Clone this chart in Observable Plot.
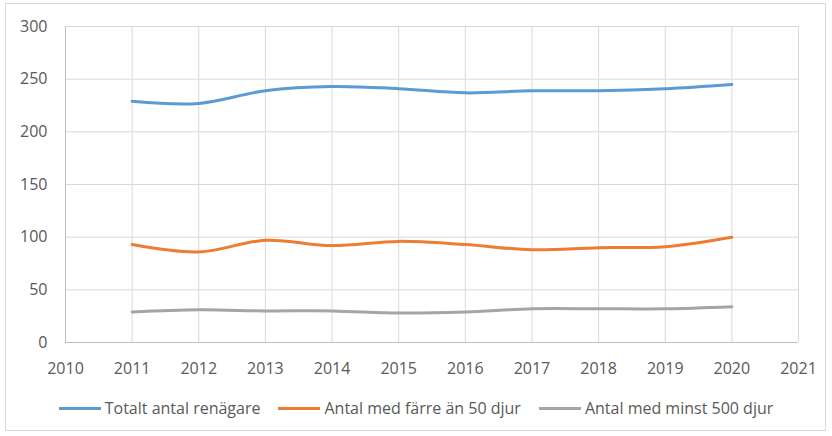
<!DOCTYPE html>
<html>
<head>
<meta charset="utf-8">
<script src="https://cdn.jsdelivr.net/npm/d3@7"></script>
<script src="https://cdn.jsdelivr.net/npm/@observablehq/plot@0.6"></script>
<style>
  body { margin: 0; background: #fff; font-family: "Open Sans", sans-serif; }
  #frame { position: absolute; left: 5px; top: 3px; width: 821px; height: 428px; border: 1px solid #d9d9d9; box-sizing: border-box; }
  #chart { position: absolute; left: 0; top: 0; }
  #legend { position: absolute; left: 0; top: 397px; width: 832px; display: flex; justify-content: center; gap: 18px; font-size: 16px; color: #595959; }
  .item { display: flex; align-items: center; }
  .sw { display: inline-block; width: 42px; height: 3px; margin-right: 4px; }
</style>
</head>
<body>
<div id="frame"></div>
<div id="chart"></div>
<div id="legend"></div>
<script>
const years = [2011, 2012, 2013, 2014, 2015, 2016, 2017, 2018, 2019, 2020];
const totalt = [229, 227, 239, 243, 241, 237, 239, 239, 241, 245];
const farre50 = [93, 86, 97, 92, 96, 93, 88, 90, 91, 100];
const minst500 = [29, 31, 30, 30, 28, 29, 32, 32, 32, 34];
const seriesNames = ["Totalt antal renägare", "Antal med färre än 50 djur", "Antal med minst 500 djur"];
const seriesColors = ["#5B9BD5", "#ED7D31", "#A5A5A5"];
const xTicks = [2010, 2011, 2012, 2013, 2014, 2015, 2016, 2017, 2018, 2019, 2020, 2021];
const yTicks = [0, 50, 100, 150, 200, 250, 300];

const seriesValues = [totalt, farre50, minst500];
const rows = seriesValues.map(vals => years.map((yr, i) => ({year: yr, value: vals[i]})));

const chart = Plot.plot({
  width: 832,
  height: 385,
  marginLeft: 65,
  marginRight: 34,
  marginTop: 26,
  marginBottom: 43,
  style: {fontFamily: "'Open Sans', sans-serif", fontSize: "16px", color: "#595959", background: "transparent"},
  x: {domain: [2010, 2021], ticks: xTicks, tickFormat: d => String(d), label: null},
  y: {domain: [0, 300], ticks: yTicks, label: null},
  marks: [
    Plot.gridX(xTicks, {stroke: "#d9d9d9", strokeOpacity: 1, strokeWidth: 1}),
    Plot.gridY(yTicks, {stroke: "#d9d9d9", strokeOpacity: 1, strokeWidth: 1}),
    Plot.ruleY([0], {stroke: "#bfbfbf"}),
    Plot.ruleX([2010], {stroke: "#bfbfbf"}),
    ...rows.map((r, i) => Plot.line(r, {x: "year", y: "value", stroke: seriesColors[i], strokeWidth: 3, curve: "catmull-rom"})),
    Plot.axisX(xTicks, {tickSize: 0, tickPadding: 20, tickFormat: d => String(d), fill: "#595959", label: null}),
    Plot.axisY(yTicks, {tickSize: 0, tickPadding: 18, fill: "#595959", label: null})
  ]
});
document.getElementById("chart").append(chart);

const legend = document.getElementById("legend");
seriesNames.forEach((name, i) => {
  const it = document.createElement("div");
  it.className = "item";
  const sw = document.createElement("span");
  sw.className = "sw";
  sw.style.background = seriesColors[i];
  it.append(sw, document.createTextNode(name));
  legend.append(it);
});
</script>
</body>
</html>
